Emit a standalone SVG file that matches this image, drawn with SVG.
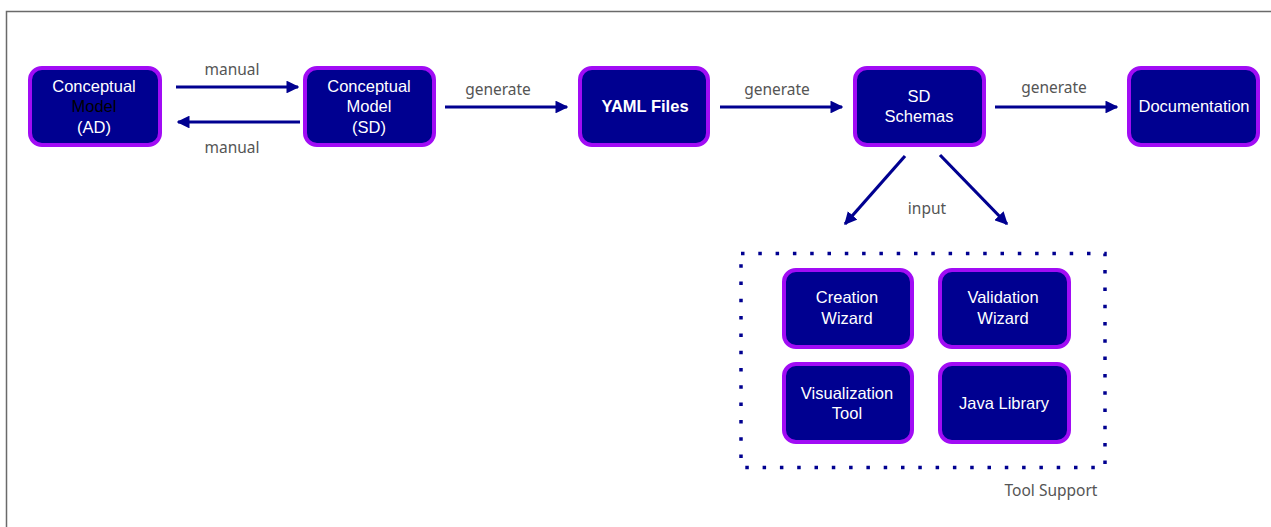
<svg xmlns="http://www.w3.org/2000/svg" width="1271" height="527" viewBox="0 0 1271 527">
  <defs>
    <marker id="arrow" viewBox="0 0 10 10" refX="9" refY="5" markerWidth="4" markerHeight="4" orient="auto" markerUnits="strokeWidth">
      <path d="M0,0 L10,5 L0,10 Z" fill="#000090"/>
    </marker>
    <style>
      .node rect { fill: #000090; stroke: #a10cf5; stroke-width: 4; }
      .node text { fill: #ffffff; font-family: "Liberation Sans", Arial, sans-serif; font-size: 16.5px; text-anchor: middle; }
      .edge { stroke: #000090; stroke-width: 3.2; fill: none; marker-end: url(#arrow); }
      .lbl { fill: #555555; font-family: "Noto Sans", "Open Sans", sans-serif; font-size: 15.5px; text-anchor: middle; }
    </style>
  </defs>

  <rect width="1271" height="527" fill="#ffffff"/>
  <!-- outer frame -->
  <path d="M6.5,527 V11.5 H1271" fill="none" stroke="#6a6a6a" stroke-width="1.5"/>

  <!-- tool support group frame -->
  <g id="tool-support">
    <rect x="741" y="253.5" width="364" height="214" fill="none" stroke="#000090" stroke-width="3.5" stroke-dasharray="3.5 13.8"/>
    <text class="lbl" x="1051" y="496">Tool Support</text>
  </g>

  <g id="connectors">
    <line class="edge" x1="176" y1="87" x2="298" y2="87"/>
    <line class="edge" x1="300" y1="122" x2="178" y2="122"/>
    <line class="edge" x1="445" y1="107" x2="567" y2="107"/>
    <line class="edge" x1="720" y1="107" x2="842" y2="107"/>
    <line class="edge" x1="995" y1="107" x2="1117" y2="107"/>
    <line class="edge" x1="905" y1="156" x2="845" y2="224"/>
    <line class="edge" x1="940" y1="155" x2="1007" y2="224"/>
    <text class="lbl" x="232" y="75">manual</text>
    <text class="lbl" x="232" y="153">manual</text>
    <text class="lbl" x="498" y="95">generate</text>
    <text class="lbl" x="777" y="95">generate</text>
    <text class="lbl" x="1054" y="93">generate</text>
    <text class="lbl" x="927" y="214">input</text>
  </g>

  <g id="cm-ad" class="node">
    <rect x="30" y="68" width="130" height="77" rx="12"/>
    <text x="94" y="92">Conceptual</text>
    <text x="94" y="112" style="fill:#000000">Model</text>
    <text x="94" y="133">(AD)</text>
  </g>
  <g id="cm-sd" class="node">
    <rect x="305" y="68" width="129" height="77" rx="12"/>
    <text x="369" y="92">Conceptual</text>
    <text x="369" y="112">Model</text>
    <text x="369" y="133">(SD)</text>
  </g>
  <g id="yaml" class="node">
    <rect x="580" y="68" width="128" height="77" rx="12"/>
    <text x="645" y="112" style="font-weight:bold">YAML Files</text>
  </g>
  <g id="sd-schemas" class="node">
    <rect x="855" y="68" width="129" height="77" rx="12"/>
    <text x="919" y="102">SD</text>
    <text x="919" y="122">Schemas</text>
  </g>
  <g id="documentation" class="node">
    <rect x="1129" y="68" width="129" height="77" rx="12"/>
    <text x="1194" y="112">Documentation</text>
  </g>
  <g id="creation-wizard" class="node">
    <rect x="784" y="270" width="128" height="77" rx="12"/>
    <text x="847" y="303">Creation</text>
    <text x="847" y="324">Wizard</text>
  </g>
  <g id="validation-wizard" class="node">
    <rect x="940" y="270" width="129" height="77" rx="12"/>
    <text x="1003" y="303">Validation</text>
    <text x="1003" y="324">Wizard</text>
  </g>
  <g id="visualization-tool" class="node">
    <rect x="784" y="364" width="128" height="78" rx="12"/>
    <text x="847" y="399">Visualization</text>
    <text x="847" y="419">Tool</text>
  </g>
  <g id="java-library" class="node">
    <rect x="940" y="364" width="129" height="78" rx="12"/>
    <text x="1004" y="409">Java Library</text>
  </g>
</svg>
